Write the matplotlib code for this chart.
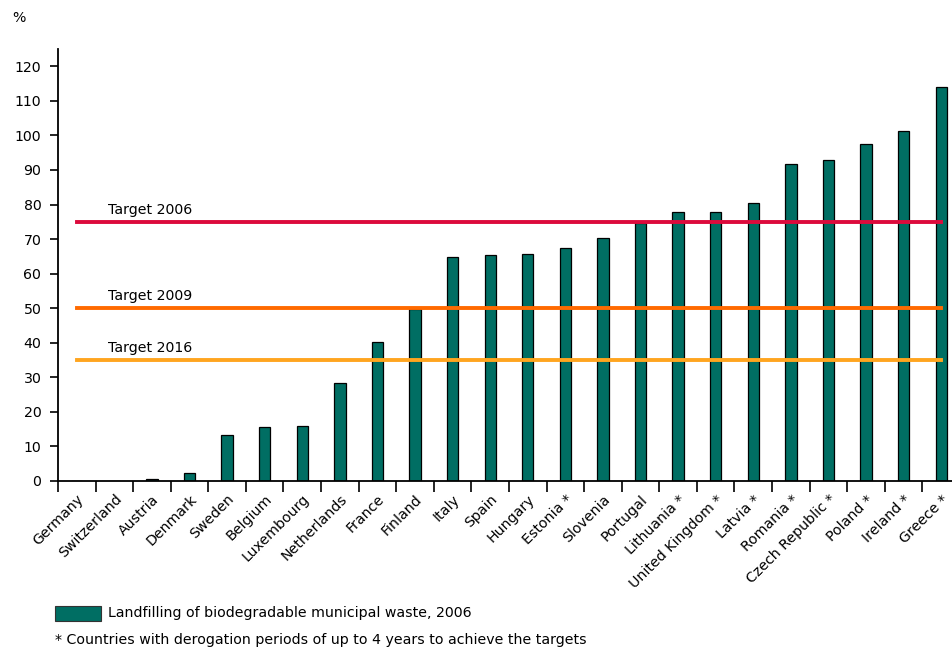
import numpy as np
import matplotlib
matplotlib.use('Agg')
import matplotlib.pyplot as plt

# data
countries = ['Germany', 'Switzerland', 'Austria', 'Denmark', 'Sweden', 'Belgium',
             'Luxembourg', 'Netherlands', 'France', 'Finland', 'Italy', 'Spain',
             'Hungary', 'Estonia *', 'Slovenia', 'Portugal', 'Lithuania *',
             'United Kingdom *', 'Latvia *', 'Romania *', 'Czech Republic *',
             'Poland *', 'Ireland *', 'Greece *']
values = [0, 0, 0.6, 2.2, 13.2, 15.5, 16.0, 28.3, 40.1, 49.7, 64.7, 65.4,
          65.8, 67.5, 70.4, 74.6, 77.9, 77.9, 80.3, 91.8, 93.0, 97.4, 101.4, 114.1]
target_names = ['Target 2006', 'Target 2009', 'Target 2016']
target_values = [75, 50, 35]
target_colors = ['#dc0a3c', '#ff6a00', '#ffa51f']

plt.rcParams['font.family'] = 'DejaVu Sans'
plt.rcParams['font.size'] = 10.2

fig = plt.figure(figsize=(9.53, 6.48), dpi=100)
ax = fig.add_axes([58 / 953, 1 - 481 / 648, 902 / 953, 432 / 648])

x = np.arange(len(countries))
ax.bar(x, values, width=0.3, color='#006e63', edgecolor='black', linewidth=0.9, zorder=2)

# target lines
for name, val, col in zip(target_names, target_values, target_colors):
    ax.plot([0, len(countries) - 1], [val, val], color=col, linewidth=2.8, zorder=3)
    ax.text(0.82, val + 1.4, name, ha='left', va='bottom')

ax.set_xlim(-0.5, len(countries) - 0.5)
ax.set_ylim(0, 125)
ax.set_yticks(range(0, 121, 10))
ax.set_xticks(x)
ax.set_xticklabels(countries, rotation=45, ha='right', rotation_mode='anchor')
ax.set_xticks(np.arange(-0.5, len(countries), 1), minor=True)
ax.tick_params(axis='x', which='major', length=0, pad=8)
ax.tick_params(axis='x', which='minor', length=8, width=1.2, direction='out')
ax.tick_params(axis='y', length=6, width=1.2, direction='out', pad=6)

for s in ['top', 'right']:
    ax.spines[s].set_visible(False)
for s in ['left', 'bottom']:
    ax.spines[s].set_linewidth(1.3)

fig.text(12 / 953, 1 - 18 / 648, '%', va='center')

# legend
fig.patches.append(plt.Rectangle((55 / 953, 1 - 621 / 648), 46 / 953, 15 / 648,
                                 transform=fig.transFigure, facecolor='#006e63',
                                 edgecolor='#333333', linewidth=0.8))
fig.text(108 / 953, 1 - 613 / 648, 'Landfilling of biodegradable municipal waste, 2006',
         va='center')
fig.text(55 / 953, 1 - 640 / 648,
         '* Countries with derogation periods of up to 4 years to achieve the targets',
         va='center')

fig.savefig('out.png', dpi=100)
